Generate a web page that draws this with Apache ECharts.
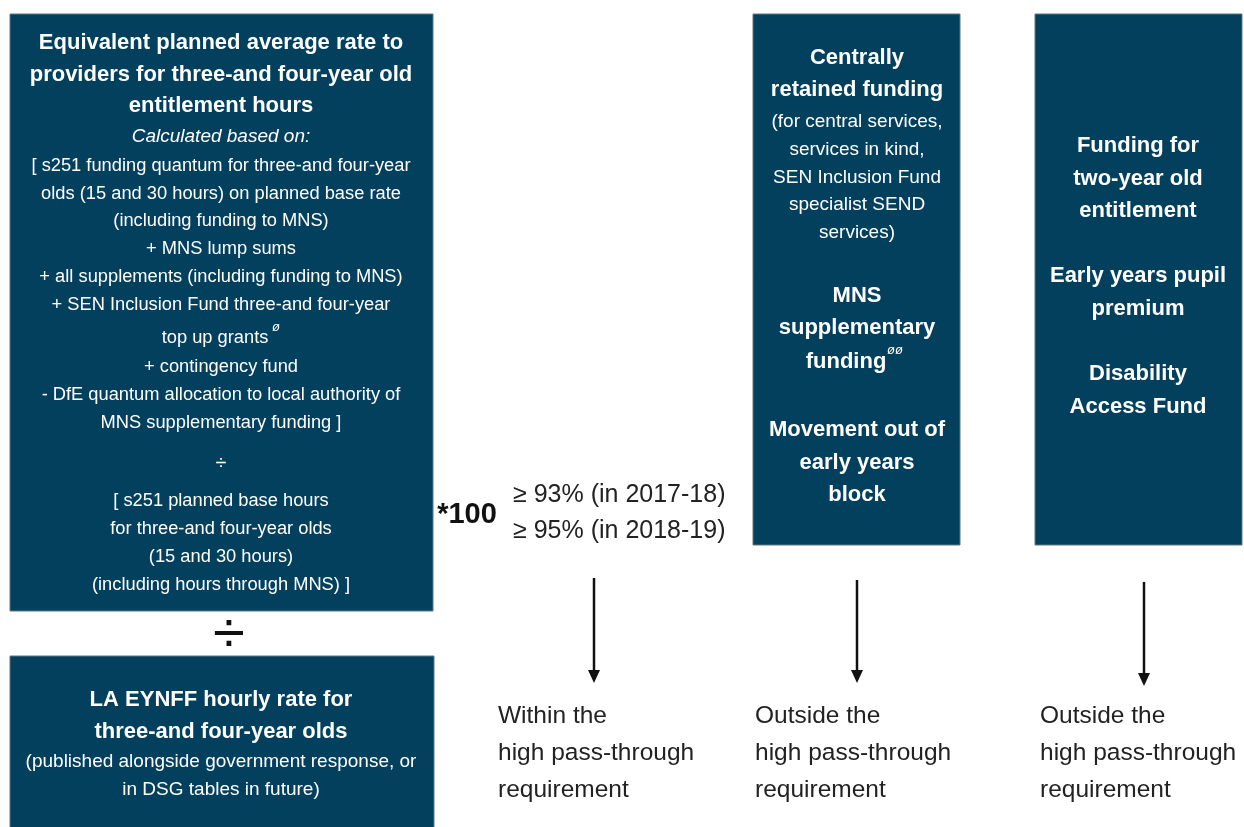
<!DOCTYPE html>
<html>
<head>
<meta charset="utf-8">
<script src="https://cdn.jsdelivr.net/npm/echarts@6/dist/echarts.min.js"></script>
<style>
  html, body { margin: 0; padding: 0; background: #fff; }
  #chart { width: 1244px; height: 827px; }
</style>
</head>
<body>
<div id="chart"></div>
<script>
/*== 文本数据 ==*/
var leftTitle = ['Equivalent planned average rate to', 'providers for three-and four-year old', 'entitlement hours'];
var leftNote = 'Calculated based on:';
var leftTop = [
    '[ s251 funding quantum for three-and four-year',
    'olds (15 and 30 hours) on planned base rate',
    '(including funding to MNS)',
    '+ MNS lump sums',
    '+ all supplements (including funding to MNS)',
    '+ SEN Inclusion Fund three-and four-year'
];
var leftMid = ['+ contingency fund', '- DfE quantum allocation to local authority of', 'MNS supplementary funding ]'];
var leftBottom = ['[ s251 planned base hours', 'for three-and four-year olds', '(15 and 30 hours)', '(including hours through MNS) ]'];
var rateTitle = ['LA EYNFF hourly rate for', 'three-and four-year olds'];
var rateNote = ['(published alongside government response, or', 'in DSG tables in future)'];
var thresholds = ['\u2265 93% (in 2017-18)', '\u2265 95% (in 2018-19)'];
var centralTitle = ['Centrally', 'retained funding'];
var centralNote = ['(for central services,', 'services in kind,', 'SEN Inclusion Fund', 'specialist SEND', 'services)'];
var centralMore = ['MNS', 'supplementary'];
var centralLast = ['Movement out of', 'early years', 'block'];
var twoYear = ['Funding for', 'two-year old', 'entitlement', '', 'Early years pupil', 'premium', '', 'Disability', 'Access Fund'];
var outcomes = [
    ['Within the', 'high pass-through', 'requirement'],
    ['Outside the', 'high pass-through', 'requirement'],
    ['Outside the', 'high pass-through', 'requirement']
];

var BOX = '#03405E';
var FONT = '"Liberation Sans", Arial, sans-serif';

var els = [];

function box(x, y, w, h) {
    els.push({
        type: 'rect',
        shape: { x: x, y: y, width: w, height: h },
        style: { fill: BOX, stroke: '#5e7687', lineWidth: 1 }
    });
}

function lines(arr, cx, y0, step, size, weight, color, align, italic) {
    arr.forEach(function (t, i) {
        if (!t) return;
        els.push({
            type: 'text',
            x: cx, y: y0 + i * step,
            style: {
                text: t,
                fill: color || '#fff',
                font: (italic ? 'italic ' : '') + (weight || 'normal') + ' ' + size + 'px ' + FONT,
                textAlign: align || 'center',
                textVerticalAlign: 'middle'
            }
        });
    });
}

function arrow(x, y1, y2) {
    els.push({
        type: 'line',
        shape: { x1: x, y1: y1, x2: x, y2: y2 - 10 },
        style: { stroke: '#111', lineWidth: 2.5 }
    });
    els.push({
        type: 'polygon',
        shape: { points: [[x - 6, y2 - 13], [x + 6, y2 - 13], [x, y2]] },
        style: { fill: '#111' }
    });
}

/*== 左侧大框 ==*/
box(10, 14, 423, 597);
lines(leftTitle, 221, 43, 31.5, 22, 'bold');
lines([leftNote], 221, 137, 0, 19, 'normal', '#fff', 'center', true);
lines(leftTop, 221, 166, 27.7, 18.3);
lines(['top up grants'], 215, 338, 0, 18.3);
lines(['\u00f8'], 272, 327, 0, 13, 'normal', '#fff', 'left', true);
lines(leftMid, 221, 367, 28, 18.3);
lines(['\u00f7'], 221, 463, 0, 20);
lines(leftBottom, 221, 501, 28, 18.3);

/*== 除号 ==*/
lines(['\u00f7'], 229, 636, 0, 58, 'normal', '#111');

/*== 左下框 ==*/
box(10, 656, 424, 190);
lines(rateTitle, 221, 700, 32, 22, 'bold');
lines(rateNote, 221, 762, 28, 19);

/*== 中间百分比 ==*/
lines(['*100'], 467, 515, 0, 29, 'bold', '#111');
lines(thresholds, 513, 495, 36, 25, 'normal', '#222', 'left');

/*== 中央保留框 ==*/
box(753, 14, 207, 531);
lines(centralTitle, 857, 58, 32, 22, 'bold');
lines(centralNote, 857, 122, 27.7, 19);
lines(centralMore, 857, 296, 32, 22, 'bold');
lines(['funding'], 846, 362, 0, 22, 'bold');
lines(['\u00f8\u00f8'], 887, 350, 0, 13, 'normal', '#fff', 'left', true);
lines(centralLast, 857, 430, 32.5, 22, 'bold');

/*== 两岁框 ==*/
box(1035, 14, 207, 531);
lines(twoYear, 1138, 146, 32.6, 22, 'bold');

/*== 箭头与结果 ==*/
arrow(594, 578, 683);
arrow(857, 580, 683);
arrow(1144, 582, 686);
lines(outcomes[0], 498, 716, 37, 24.5, 'normal', '#222', 'left');
lines(outcomes[1], 755, 716, 37, 24.5, 'normal', '#222', 'left');
lines(outcomes[2], 1040, 716, 37, 24.5, 'normal', '#222', 'left');

var myChart = echarts.init(document.getElementById('chart'));
myChart.setOption({
    backgroundColor: '#fff',
    animation: false,
    graphic: { elements: els }
});
</script>
</body>
</html>
